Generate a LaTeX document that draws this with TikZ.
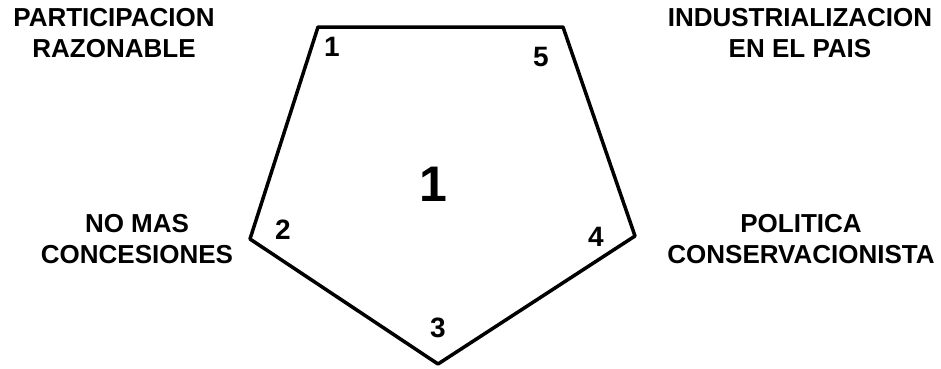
\documentclass[tikz,border=0pt]{standalone}
\usepackage{fontspec}
\setmainfont{Liberation Sans}
\usepackage{tikz}
\usetikzlibrary{calc}

\begin{document}
\begin{tikzpicture}[
  x=1pt,y=1pt,
  line cap=round,line join=round,
  edge/.style={line width=3.5pt},
  goal/.style={align=center,inner sep=0pt,font=\fontsize{26}{31}\selectfont\bfseries},
  corner/.style={inner sep=0pt,font=\fontsize{28}{28}\selectfont\bfseries},
  big/.style={inner sep=0pt,font=\fontsize{50}{50}\selectfont\bfseries}
]
  \useasboundingbox (0,0) rectangle (941,-368);

  % Key points
  \coordinate (P1) at (318,-27);
  \coordinate (P5) at (563,-27);
  \coordinate (P4) at (635,-236);
  \coordinate (P3) at (438,-364);
  \coordinate (P2) at (250,-239);

  % Pentagon
  \draw[edge] (P1) -- (P5) -- (P4) -- (P3) -- (P2) -- cycle;

  % Corner numbers
  \node[corner] (n1) at (332,-47) {1};
  \node[corner] (n5) at (541,-57) {5};
  \node[corner] (n4) at (596,-237) {4};
  \node[corner] (n3) at (438,-328) {3};
  \node[corner] (n2) at (283,-230) {2};

  % Centre number
  \node[big] (mid) at (433,-184) {1};

  % Goals
  \node[goal] (part) at (114,-33) {PARTICIPACION\\RAZONABLE};
  \node[goal] (indu) at (800,-33) {INDUSTRIALIZACION\\EN EL PAIS};
  \node[goal] (conc) at (137,-239) {NO MAS\\CONCESIONES};
  \node[goal] (poli) at (801,-239) {POLITICA\\CONSERVACIONISTA};
\end{tikzpicture}
\end{document}
